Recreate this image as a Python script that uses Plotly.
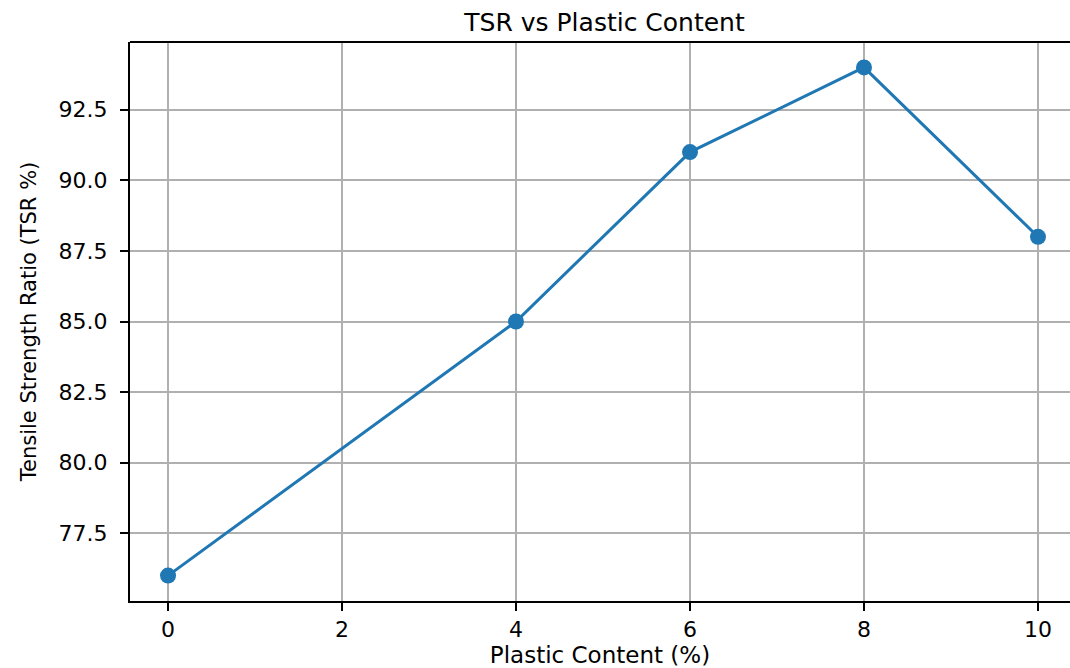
import plotly.graph_objects as go

plastic_content = [0, 4, 6, 8, 10]
tsr = [76, 85, 91, 94, 88]
x_ticks = [0, 2, 4, 6, 8, 10]
y_ticks = [77.5, 80.0, 82.5, 85.0, 87.5, 90.0, 92.5]

fig = go.Figure()
fig.add_trace(go.Scatter(
    x=plastic_content, y=tsr, mode="lines+markers",
    line=dict(color="#1f77b4", width=3),
    marker=dict(color="#1f77b4", size=16),
    showlegend=False,
))

fig.update_layout(
    width=1070, height=668,
    margin=dict(l=130, r=0, t=42, b=67),
    paper_bgcolor="white", plot_bgcolor="white",
    font=dict(family="DejaVu Sans", color="black"),
    title=dict(text="TSR vs Plastic Content", x=0.565, xanchor="center",
               y=0.967, yanchor="middle",
               font=dict(family="DejaVu Sans", size=25)),
)
fig.update_xaxes(
    range=[-0.437, 10.368], tickvals=x_ticks, ticktext=[str(v) for v in x_ticks],
    showgrid=True, gridcolor="#b0b0b0", gridwidth=1.5,
    showline=True, linecolor="black", linewidth=2, mirror=False,
    ticks="outside", ticklen=8, tickwidth=1.5, tickcolor="black",
    tickfont=dict(size=22, family="DejaVu Sans"),
    title=dict(text="Plastic Content (%)", standoff=4,
               font=dict(size=23, family="DejaVu Sans")),
    zeroline=False,
)
fig.update_yaxes(
    range=[75.1, 94.9], tickvals=y_ticks, ticktext=[f"{v:.1f}" for v in y_ticks],
    showgrid=True, gridcolor="#b0b0b0", gridwidth=1.5,
    showline=True, linecolor="black", linewidth=2, mirror=False,
    ticks="outside", ticklen=8, tickwidth=1.5, tickcolor="black",
    ticklabelstandoff=8,
    tickfont=dict(size=22, family="DejaVu Sans"),
    title=dict(text="Tensile Strength Ratio (TSR %)", standoff=16,
               font=dict(size=21, family="DejaVu Sans")),
    zeroline=False,
)
fig.add_shape(type="line", xref="paper", yref="paper", x0=0, x1=1, y0=1, y1=1,
              line=dict(color="black", width=2))

fig.write_html("out.html", config={"displayModeBar": False},
               post_script="document.body.style.margin='0';document.body.style.overflow='hidden';")
